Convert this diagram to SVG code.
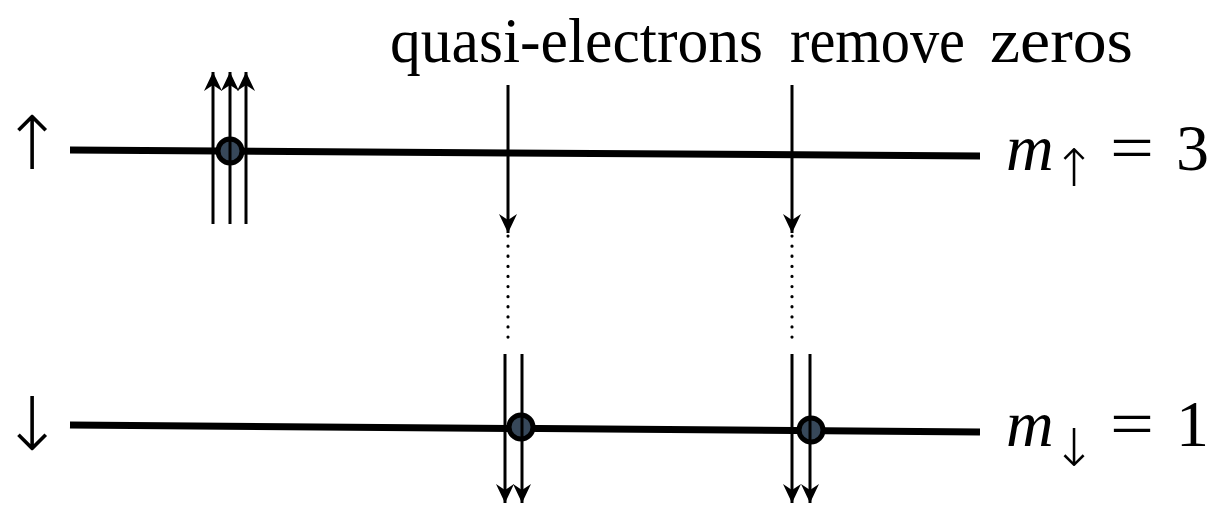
<svg xmlns="http://www.w3.org/2000/svg" width="1209" height="506" viewBox="0 0 1209 506">
<defs>
<marker id="ah" markerWidth="20" markerHeight="20" refX="19" refY="9" orient="auto" markerUnits="userSpaceOnUse" viewBox="0 0 20 18">
<path d="M0,0 L19,9 L0,18 L6,9 Z" fill="#000"/>
</marker>
<style>
.lvl{stroke:#000;stroke-width:7;fill:none}
.ar{stroke:#000;stroke-width:3;fill:none}
.dot{stroke:#000;stroke-width:3.2;stroke-dasharray:0.1 10;stroke-linecap:round;fill:none}
.p{fill:#37485a;stroke:#000;stroke-width:5}
.t{font-family:"Liberation Serif",serif;fill:#000}
.sym{font-family:"DejaVu Sans",sans-serif;font-weight:200;fill:#000}
</style>
</defs>
<rect width="1209" height="506" fill="#fff"/>
<g id="levels">
<line class="lvl" x1="70" y1="150" x2="980" y2="156"/>
<line class="lvl" x1="70" y1="425" x2="980" y2="432"/>
</g>
<g id="connectors">
<line class="ar" x1="213" y1="224" x2="213" y2="72" marker-end="url(#ah)"/>
<line class="ar" x1="230" y1="224" x2="230" y2="72" marker-end="url(#ah)"/>
<line class="ar" x1="246" y1="224" x2="246" y2="72" marker-end="url(#ah)"/>
<line class="ar" x1="508" y1="85" x2="508" y2="233" marker-end="url(#ah)"/>
<line class="dot" x1="508" y1="236" x2="508" y2="347"/>
<line class="ar" x1="505" y1="354" x2="505" y2="503" marker-end="url(#ah)"/>
<line class="ar" x1="522" y1="354" x2="522" y2="503" marker-end="url(#ah)"/>
<line class="ar" x1="792" y1="85" x2="792" y2="233" marker-end="url(#ah)"/>
<line class="dot" x1="792" y1="236" x2="792" y2="347"/>
<line class="ar" x1="792" y1="354" x2="792" y2="503" marker-end="url(#ah)"/>
<line class="ar" x1="810" y1="354" x2="810" y2="503" marker-end="url(#ah)"/>
</g>
<g id="particle-up"><circle class="p" cx="230" cy="151" r="12"/><line class="ar" x1="230" y1="139" x2="230" y2="163"/></g>
<g id="particle-down-1"><circle class="p" cx="521" cy="427" r="12"/><line class="ar" x1="522" y1="415" x2="522" y2="439"/></g>
<g id="particle-down-2"><circle class="p" cx="811" cy="430" r="12"/><line class="ar" x1="810" y1="418" x2="810" y2="442"/></g>
<g id="title">
<text class="t" x="390" y="62" font-size="63" textLength="373" lengthAdjust="spacingAndGlyphs">quasi-electrons</text>
<text class="t" x="790" y="62" font-size="63" textLength="175" lengthAdjust="spacingAndGlyphs">remove</text>
<text class="t" x="990" y="62" font-size="63" textLength="143" lengthAdjust="spacingAndGlyphs">zeros</text>
</g>
<g id="spin-up"><text class="sym" x="1" y="169" font-size="74">↑</text></g>
<g id="spin-down"><text class="sym" x="1" y="450" font-size="74">↓</text></g>
<g id="m-up">
<text class="t" x="1006" y="170" font-size="66" font-style="italic">m</text>
<text class="sym" x="1074" y="186" font-size="52" text-anchor="middle">↑</text>
<text class="t" x="1110" y="170" font-size="66" textLength="44" lengthAdjust="spacingAndGlyphs">=</text>
<text class="t" x="1176" y="170" font-size="66">3</text>
</g>
<g id="m-down">
<text class="t" x="1006" y="446" font-size="66" font-style="italic">m</text>
<text class="sym" x="1074" y="466" font-size="52" text-anchor="middle">↓</text>
<text class="t" x="1110" y="446" font-size="66" textLength="44" lengthAdjust="spacingAndGlyphs">=</text>
<text class="t" x="1176" y="446" font-size="66">1</text>
</g>
</svg>
